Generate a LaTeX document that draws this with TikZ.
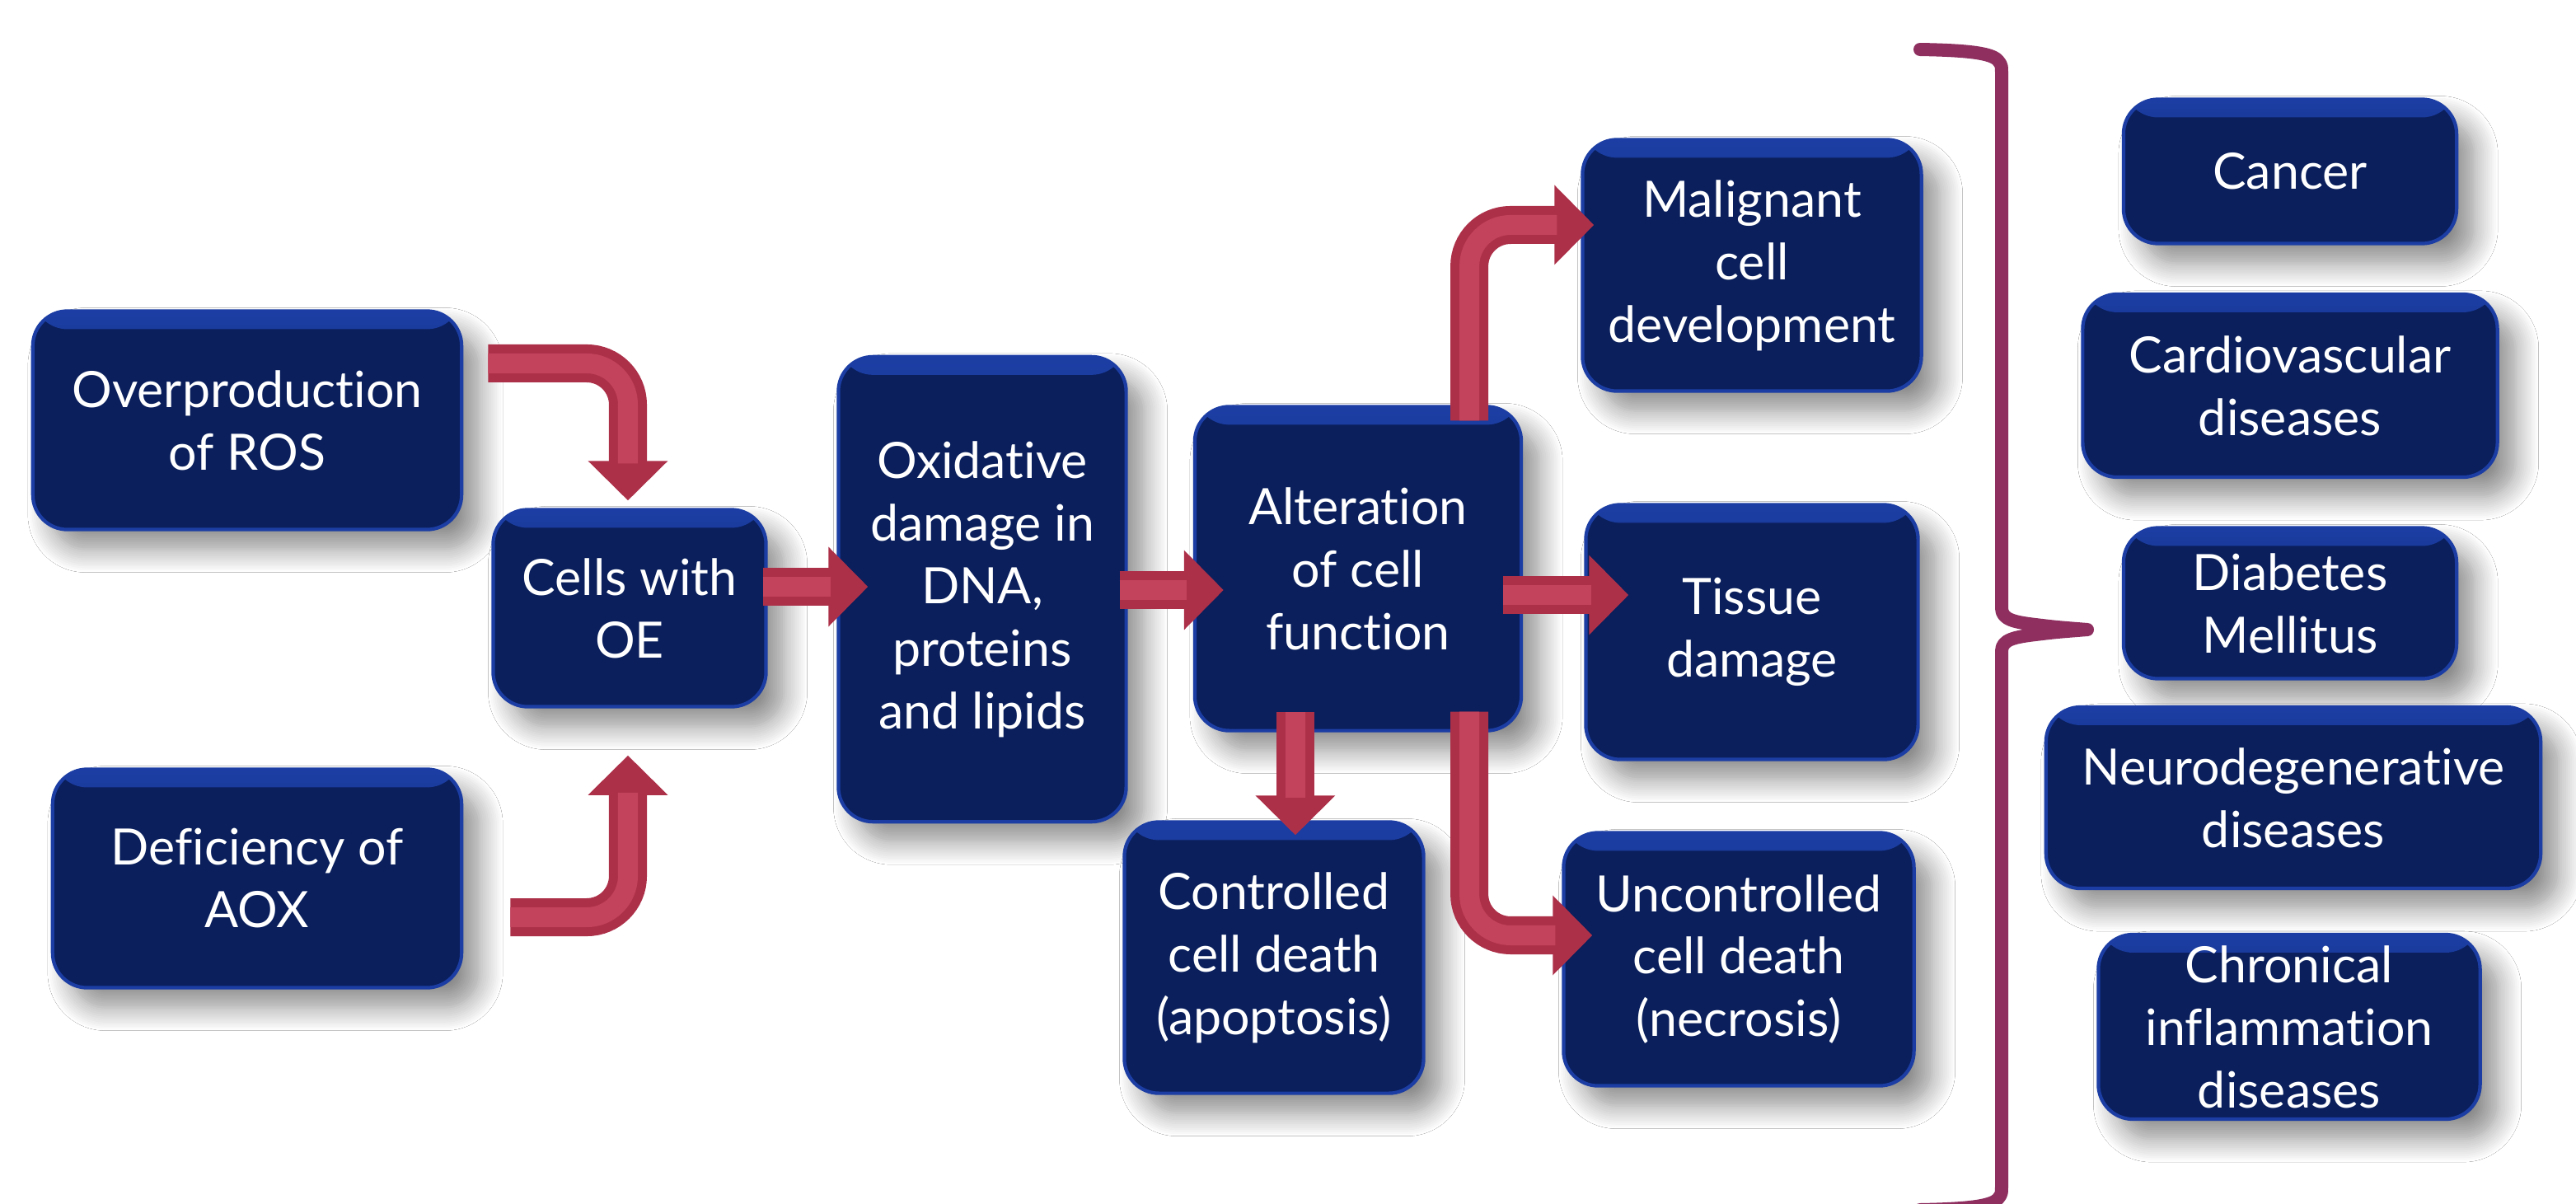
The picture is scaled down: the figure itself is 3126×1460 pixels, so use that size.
\documentclass[tikz,border=0pt]{standalone}
\usepackage{fontspec}
\setmainfont{Lato}[Ligatures={NoCommon}]
\usetikzlibrary{arrows.meta,shadows.blur,calc}
\definecolor{navy}{HTML}{0A1F5C}
\definecolor{rim}{HTML}{1C3EA4}
\definecolor{arrowred}{HTML}{AD3049}
\definecolor{arrowhi}{HTML}{C3425C}
\definecolor{bracecol}{HTML}{8E2F60}
\tikzset{
  box/.style={rectangle, rounded corners=0.42cm, fill=navy, draw=rim, line width=1.2pt,
    text=white, align=center, font=\fontsize{17.3}{21.6}\selectfont, inner sep=0pt,
    blur shadow={shadow xshift=0.22cm, shadow yshift=-0.24cm, shadow opacity=45,
      shadow blur radius=0.28cm, shadow blur steps=12},
    path picture={\fill[top color=rim, bottom color=navy]
      (path picture bounding box.north west) rectangle
      ([yshift=-0.22cm]path picture bounding box.north east);}},
  rbox/.style={box},
  redarrow/.style={line width=0.46cm, draw=arrowred, rounded corners=0.5cm,
    -{Triangle[width=0.94cm,length=0.48cm]}},
  redhi/.style={line width=0.24cm, draw=arrowhi, rounded corners=0.5cm, shorten >=0.45cm},
}
\begin{document}
\begin{tikzpicture}[x=0.01cm, y=-0.01cm]
\useasboundingbox (0,0) rectangle (3126,1460);
\fill[white] (0,0) rectangle (3126,1460);

% left and middle boxes
\node[box, minimum width=5.2cm, minimum height=2.65cm] (ros) at (300,510) {Overproduction\\of ROS};
\node[box, minimum width=4.96cm, minimum height=2.65cm] (aox) at (312,1066) {Deficiency of\\AOX};
\node[box, minimum width=3.31cm, minimum height=2.39cm] (oe) at (764,738) {Cells with\\OE};
\node[box, minimum width=3.49cm, minimum height=5.64cm] (oxi) at (1192,715) {Oxidative\\damage in\\DNA,\\proteins\\and lipids};
\node[box, minimum width=3.96cm, minimum height=3.93cm] (alt) at (1648,690) {Alteration\\of cell\\function};
\node[box, minimum width=4.11cm, minimum height=3.05cm] (mal) at (2126,322) {Malignant\\cell\\development};
\node[box, minimum width=4.03cm, minimum height=3.09cm] (tis) at (2126,767) {Tissue\\damage};
\node[box, minimum width=3.63cm, minimum height=3.29cm] (con) at (1546,1162) {Controlled\\cell death\\(apoptosis)};
\node[box, minimum width=4.25cm, minimum height=3.07cm] (unc) at (2110,1164) {Uncontrolled\\cell death\\(necrosis)};

% right column
\node[rbox, minimum width=4.04cm, minimum height=1.75cm] (can) at (2779,208) {Cancer};
\node[rbox, minimum width=5.03cm, minimum height=2.22cm] (car) at (2779,468) {Cardiovascular\\diseases};
\node[rbox, minimum width=4.04cm, minimum height=1.83cm] (dia) at (2779,732) {Diabetes\\Mellitus};
\node[rbox, minimum width=6.0cm, minimum height=2.2cm] (neu) at (2783,968) {Neurodegenerative\\diseases};
\node[rbox, minimum width=4.63cm, minimum height=2.24cm] (chr) at (2778,1246) {Chronical\\inflammation\\diseases};

% arrow end points
\coordinate (a1s) at ([xshift=0.3cm, yshift=0.69cm]ros.east);
\coordinate (a1e) at ([xshift=-0.02cm, yshift=0.09cm]oe.north);
\coordinate (a2s) at ([xshift=0.57cm, yshift=-0.47cm]aox.east);
\coordinate (a2e) at ([xshift=-0.02cm, yshift=-0.57cm]oe.south);
\coordinate (a3s) at ([xshift=-0.06cm, yshift=0.26cm]oe.east);
\coordinate (a3x) at ([xshift=0.38cm]oxi.west);
\coordinate (a4s) at ([xshift=-0.1cm, yshift=-0.01cm]oxi.east);
\coordinate (a4x) at ([xshift=0.37cm]alt.west);
\coordinate (a5s) at ([xshift=-0.24cm, yshift=-0.32cm]alt.east);
\coordinate (a5x) at ([xshift=0.54cm]tis.west);
\coordinate (a6s) at ([xshift=1.35cm, yshift=-0.19cm]alt.north);
\coordinate (a6e) at ([xshift=0.16cm, yshift=0.49cm]mal.west);
\coordinate (a7s) at ([xshift=-0.76cm, yshift=0.25cm]alt.south);
\coordinate (a7y) at ([yshift=-0.18cm]con.north);
\coordinate (a8s) at ([xshift=1.35cm, yshift=0.25cm]alt.south);
\coordinate (a8e) at ([xshift=0.37cm, yshift=0.29cm]unc.west);

% arrows
\foreach \p in {{(a1s) -| (a1e)}, {(a2s) -| (a2e)}, {(a3s) -- (a3x |- a3s)},
  {(a4s) -- (a4x |- a4s)}, {(a5s) -- (a5x |- a5s)}, {(a6s) |- (a6e)},
  {(a7s) -- (a7s |- a7y)}, {(a8s) |- (a8e)}}{
  \draw[redarrow] \p;
  \draw[redhi] \p;
}

% brace
\draw[bracecol, line width=0.16cm, line cap=round, line join=round]
  (2330,60) .. controls (2385,61) and (2418,64) .. (2425,74)
  .. controls (2429,79) .. (2429,92) -- (2429,738)
  .. controls (2429,752) and (2445,755) .. (2470,758)
  .. controls (2495,761) .. (2533,764)
  .. controls (2495,767) .. (2470,770)
  .. controls (2445,773) and (2429,776) .. (2429,790)
  -- (2429,1436) .. controls (2429,1449) .. (2425,1454)
  .. controls (2418,1464) and (2385,1467) .. (2330,1468);
\end{tikzpicture}
\end{document}
